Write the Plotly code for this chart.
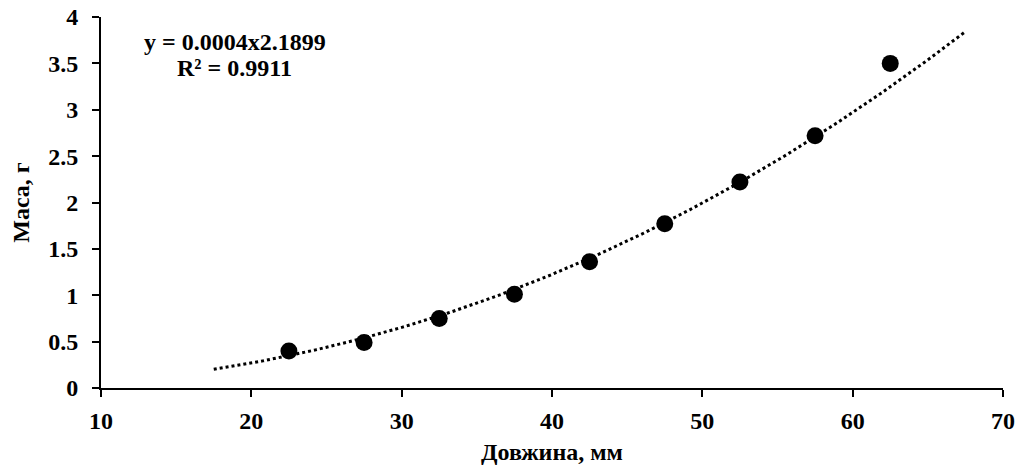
import numpy as np
import plotly.graph_objects as go

length_mm = [22.5, 27.5, 32.5, 37.5, 42.5, 47.5, 52.5, 57.5, 62.5]
mass_g = [0.40, 0.49, 0.75, 1.01, 1.36, 1.77, 2.22, 2.72, 3.50]
x_ticks = [10, 20, 30, 40, 50, 60, 70]
y_ticks = [0, 0.5, 1, 1.5, 2, 2.5, 3, 3.5, 4]
y_tick_text = ["0", "0.5", "1", "1.5", "2", "2.5", "3", "3.5", "4"]
equation_text = "y = 0.0004x2.1899"
r2_text = "R² = 0.9911"

# power-law trendline (Excel style, fitted in log-log space), forecast 5 units each way
lx, ly = np.log(length_mm), np.log(mass_g)
b, ln_a = np.polyfit(lx, ly, 1)
a = np.exp(ln_a)
x_fit = np.linspace(min(length_mm) - 5, max(length_mm) + 5, 200)
y_fit = a * x_fit ** b

FF = "Liberation Serif, Times New Roman, serif"
bold24 = dict(family=FF, size=24, color="black", weight="bold")

fig = go.Figure()
fig.add_trace(go.Scatter(x=x_fit, y=y_fit, mode="lines",
                         line=dict(color="black", width=3, dash="dot"),
                         hoverinfo="skip", showlegend=False))
fig.add_trace(go.Scatter(x=length_mm, y=mass_g, mode="markers",
                         marker=dict(color="black", size=17),
                         showlegend=False))

fig.add_annotation(x=18.9, y=3.73, xref="x", yref="y", text=equation_text,
                   showarrow=False, xanchor="center", yanchor="middle", font=bold24)
fig.add_annotation(x=18.9, y=3.45, xref="x", yref="y", text=r2_text,
                   showarrow=False, xanchor="center", yanchor="middle", font=bold24)

axis_common = dict(showline=True, linecolor="black", linewidth=2,
                   ticks="outside", ticklen=7, tickwidth=2, tickcolor="black",
                   showgrid=False, zeroline=False, tickfont=bold24, automargin=False)

fig.update_xaxes(range=[10, 70], tickvals=x_ticks, ticklabelstandoff=3, **axis_common,
                 title=dict(text="Довжина, мм", font=bold24, standoff=10))
fig.update_yaxes(range=[0, 4], tickvals=y_ticks, ticktext=y_tick_text,
                 ticklabelstandoff=9, **axis_common,
                 title=dict(text="Маса, г", font=bold24, standoff=12))

fig.update_layout(width=1023, height=468,
                  margin=dict(l=101, r=20, t=17, b=80),
                  plot_bgcolor="white", paper_bgcolor="white",
                  font=dict(family=FF, size=24, color="black"))

fig.write_html("out.html")
